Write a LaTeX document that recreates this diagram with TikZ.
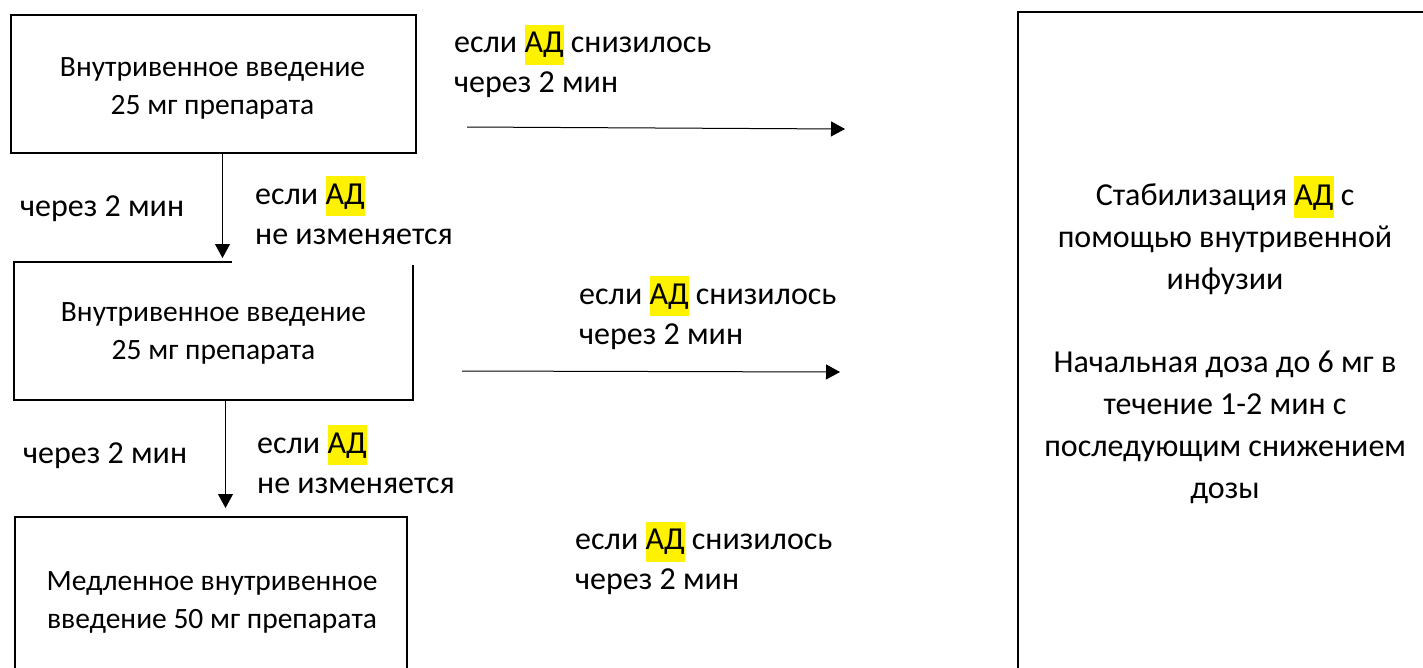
\documentclass[tikz,border=0pt]{standalone}
\usepackage{fontspec}
\setmainfont{Carlito}
\usetikzlibrary{arrows.meta}
\newcommand\hlAD{{\setlength{\fboxsep}{0pt}\colorbox{yellow}{\strut АД}}}
\begin{document}
\begin{tikzpicture}[x=1pt,y=-1pt,
  frame/.style={draw, line width=2.4pt, inner sep=0pt},
  border/.style={line width=2.4pt},
  txt/.style={font=\fontsize{29.5}{38}\selectfont, align=center, inner sep=0pt},
  widetxt/.style={font=\fontsize{32}{41.8}\selectfont, align=center, inner sep=0pt},
  lbl/.style={font=\fontsize{32}{40}\selectfont, align=left, inner sep=0pt, anchor=west},
  arr/.style={line width=1pt, -{Triangle[length=14pt,width=15pt]}}]
\useasboundingbox (0,0) rectangle (1423,667);
% boxes
\node[frame, minimum width=405pt, minimum height=138pt] (b1) at (213.5,84) {};
\node[inner sep=0pt, minimum width=399pt, minimum height=138pt] (b2) at (213.5,331) {};
\draw[border] ([xshift=218pt]b2.north west) -- (b2.north west) -- (b2.south west) -- (b2.south east) -- ([yshift=-3pt]b2.north east);
\node[frame, minimum width=392pt, minimum height=200pt] (b3) at (211,617) {};
\node[frame, minimum width=432pt, minimum height=688pt] (b4) at (1234,356) {};
% box texts
\node[txt] (t1) at (212.5,87.5) {\strut Внутривенное введение\\\strut 25 мг препарата};
\node[txt] (t2) at (213.5,333) {\strut Внутривенное введение\\\strut 25 мг препарата};
\node[txt] (t3) at (212,601.5) {\strut Медленное внутривенное\\\strut введение 50 мг препарата};
\node[widetxt] (t4) at (1225,343.5) {Стабилизация \hlAD{} с\\\strut помощью внутривенной\\\strut инфузии\\\strut\\\strut Начальная доза до 6 мг в\\\strut течение 1-2 мин с\\\strut последующим снижением\\\strut дозы};
% labels
\node[lbl] (l1) at (454,64.5) {если \hlAD{} снизилось\\\strut через 2 мин};
\node[lbl] (l2) at (579,316) {если \hlAD{} снизилось\\\strut через 2 мин};
\node[lbl] (l3) at (575,561.5) {если \hlAD{} снизилось\\\strut через 2 мин};
\node[lbl] (c1) at (20,208) {\strut через 2 мин};
\node[lbl] (c2) at (23,455) {\strut через 2 мин};
\node[lbl] (n1) at (255,216) {если \hlAD\\\strut не изменяется};
\node[lbl] (n2) at (257,465) {если \hlAD\\\strut не изменяется};
% connectors
\coordinate (h1s) at (467,127);
\coordinate (h1e) at (845,129);
\coordinate (h2s) at (462,371);
\coordinate (h2e) at (840,372);
\coordinate (v1) at (222.5,258);
\coordinate (v2) at (225.5,508);
\draw[arr] (h1s) -- (h1e);
\draw[arr] (h2s) -- (h2e);
\draw[arr] (v1 |- b1.south) -- (v1);
\draw[arr] (v2 |- b2.south) -- (v2);
\end{tikzpicture}
\end{document}
